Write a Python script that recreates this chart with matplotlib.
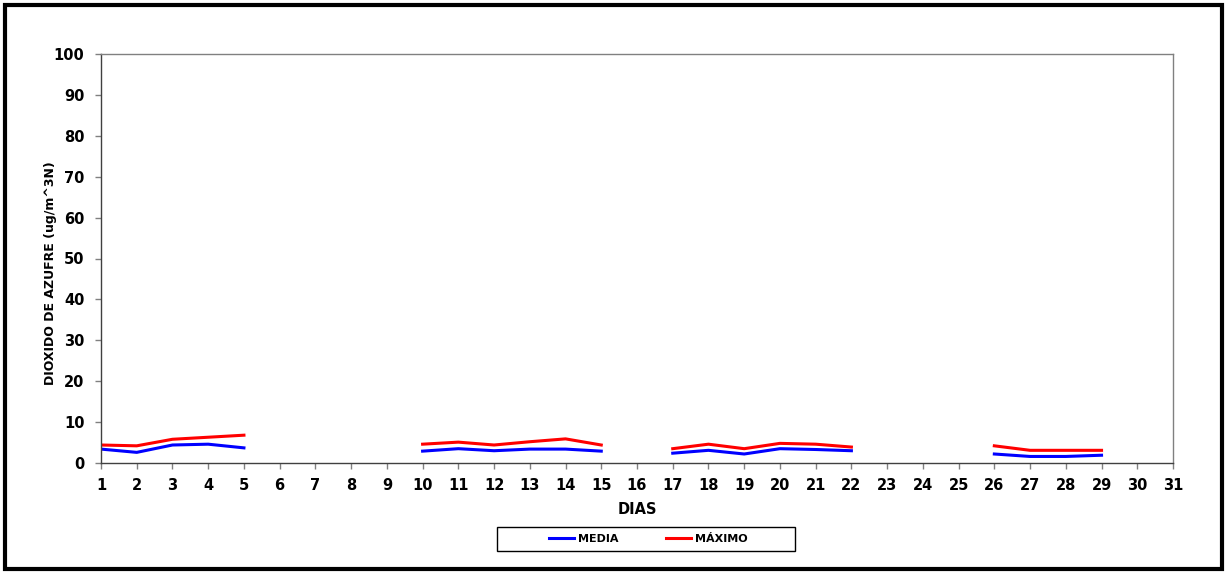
import numpy as np
import matplotlib.pyplot as plt
from matplotlib.patches import Rectangle

nan = np.nan
dias = list(range(1, 32))

# daily values (ug/m^3N), gaps where no data
media = [3.4, 2.6, 4.4, 4.6, 3.7, nan, nan, nan, nan, 2.9,
         3.5, 3.0, 3.4, 3.4, 2.9, nan, 2.4, 3.1, 2.2, 3.5,
         3.3, 3.0, nan, nan, nan, 2.2, 1.6, 1.6, 1.9, nan, nan]
maximo = [4.4, 4.2, 5.8, 6.3, 6.8, nan, nan, nan, nan, 4.6,
          5.1, 4.4, 5.2, 5.9, 4.4, nan, 3.5, 4.6, 3.5, 4.8,
          4.6, 3.9, nan, nan, nan, 4.2, 3.1, 3.1, 3.1, nan, nan]

plt.rcParams['font.family'] = 'DejaVu Sans'
plt.rcParams['font.weight'] = 'bold'

W, H = 1227, 574
fig = plt.figure(figsize=(W / 100, H / 100), dpi=100)
ax = fig.add_axes([101 / W, 111 / H, 1072 / W, 409 / H])

ax.plot(dias, media, color='#0000ff', lw=2.2, label='MEDIA')
ax.plot(dias, maximo, color='#ff0000', lw=2.2, label='MÁXIMO')

ax.set_xlim(1, 31)
ax.set_ylim(0, 100)
ax.set_xticks(dias)
ax.set_yticks(range(0, 101, 10))
ax.tick_params(labelsize=10.5, length=4, color='#808080', width=1)
ax.tick_params(axis='y', pad=8)
ax.tick_params(axis='x', pad=7)
for lab in ax.get_xticklabels() + ax.get_yticklabels():
    lab.set_fontweight('bold')
for s in ax.spines.values():
    s.set_color('#808080')
    s.set_linewidth(1)
ax.spines['left'].set_color('#404040')
ax.spines['bottom'].set_color('#404040')

ax.set_xlabel('DIAS', fontsize=10.5, fontweight='bold', labelpad=6)
ax.set_ylabel('DIOXIDO DE AZUFRE (ug/m^3N)', fontsize=9, fontweight='bold')
ax.yaxis.set_label_coords(-44 / 1072, 190 / 409)

leg = fig.legend(loc='center', bbox_to_anchor=(648 / W, 1 - 539 / H), ncol=2,
                 prop={'size': 8, 'weight': 'bold'}, frameon=False,
                 columnspacing=4.3, handlelength=2.3, handletextpad=0.3,
                 borderpad=0, borderaxespad=0)

# legend frame
fig.patches.append(Rectangle((497 / W, 1 - 551 / H), 298 / W, 24 / H, transform=fig.transFigure,
                             fill=False, edgecolor='black', lw=1))
# outer border
fig.patches.append(Rectangle((5 / W, 5 / H), 1217 / W, 564 / H, transform=fig.transFigure,
                             fill=False, edgecolor='black', lw=3))

fig.savefig('out.png', dpi=100)
